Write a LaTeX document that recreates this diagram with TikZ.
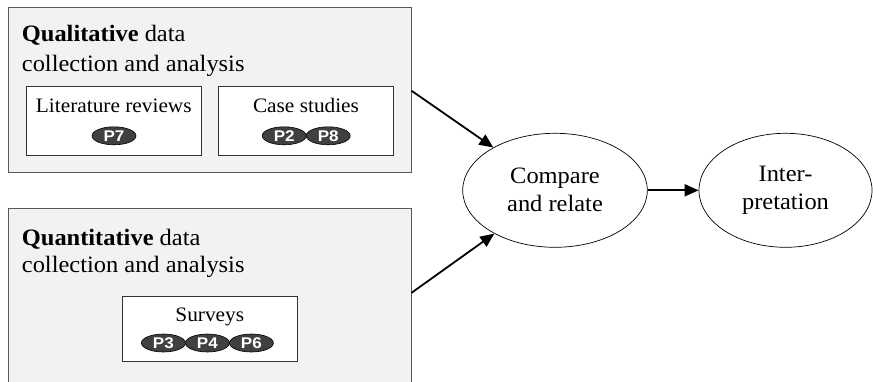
\documentclass[tikz,border=0pt]{standalone}
\usepackage{fontspec}
\setmainfont{Liberation Serif}[FakeStretch=1.04]
\newfontfamily\pillfont{Liberation Sans}[FakeStretch=1.1]
\usetikzlibrary{shapes.geometric,arrows.meta}
\begin{document}
\begin{tikzpicture}[x=1pt,y=-1pt,
  panel/.style={draw=black!65,fill=black!5,line width=0.9pt,inner sep=0pt,
    minimum width=402.7pt},
  srcbox/.style={draw=black!80,fill=white,line width=0.8pt,inner sep=0pt,
    minimum width=175pt,minimum height=69pt},
  head/.style={anchor=base west,inner sep=0pt,font=\fontsize{23.5}{28}\selectfont},
  label/.style={anchor=base,inner sep=0pt,font=\fontsize{20.5}{24}\selectfont},
  pill/.style={ellipse,draw=black,fill=black!75,line width=0.6pt,inner sep=0pt,
    minimum width=44pt,minimum height=18pt,text=white,
    font=\pillfont\bfseries\fontsize{15.5}{15.5}\selectfont},
  stage/.style={ellipse,draw=black,line width=0.7pt,inner sep=0pt,align=center,
    minimum height=114pt,font=\fontsize{23.5}{28}\selectfont},
  flow/.style={line width=1.8pt,-{Triangle[length=14pt,width=12pt]}}
]
\useasboundingbox (0,0) rectangle (873,381);
\clip (0,0) rectangle (873,381);

% qualitative panel
\node[panel,minimum height=165.4pt] (qual) at (209.65,90) {};
\node[head] (qualA) at (21.7,41.7) {\textbf{Qualitative} data};
\node[head] (qualB) at (21.7,71.7) {collection and analysis};
\node[srcbox] (lit) at (113.8,120.6) {};
\node[label] (litT) at (113.8,112.5) {Literature reviews};
\node[pill] (p7) at (114,135.8) {P7};
\node[srcbox] (case) at (306,120.6) {};
\node[label] (caseT) at (306,112.5) {Case studies};
\node[pill] (p2) at (284.2,135.8) {P2};
\node[pill] (p8) at (328.2,135.8) {P8};

% quantitative panel (runs past the lower edge)
\node[panel,minimum height=191.7pt] (quan) at (209.65,304.15) {};
\node[head] (quanA) at (21.7,245) {\textbf{Quantitative} data};
\node[head] (quanB) at (21.7,272.7) {collection and analysis};
\node[srcbox,minimum height=65pt] (surv) at (209.8,328.5) {};
\node[label] (survT) at (209.8,321.7) {Surveys};
\node[pill] (p3) at (163.4,343) {P3};
\node[pill] (p4) at (207.4,343) {P4};
\node[pill] (p6) at (251.4,343) {P6};

% synthesis stages
\node[stage,minimum width=184.6pt] (cmp) at (555,190.3) {Compare\\and relate};
\node[stage,minimum width=173pt] (intp) at (785.5,190.3) {Inter-\\pretation};

% connectors
\coordinate (qualOut) at ([yshift=-0.7pt]qual.east);
\coordinate (quanOut) at ([yshift=-85pt]quan.north east);
\draw[flow] (qualOut) -- (cmp);
\draw[flow] (quanOut) -- (cmp);
\draw[flow] (cmp) -- (intp);
\end{tikzpicture}
\end{document}
